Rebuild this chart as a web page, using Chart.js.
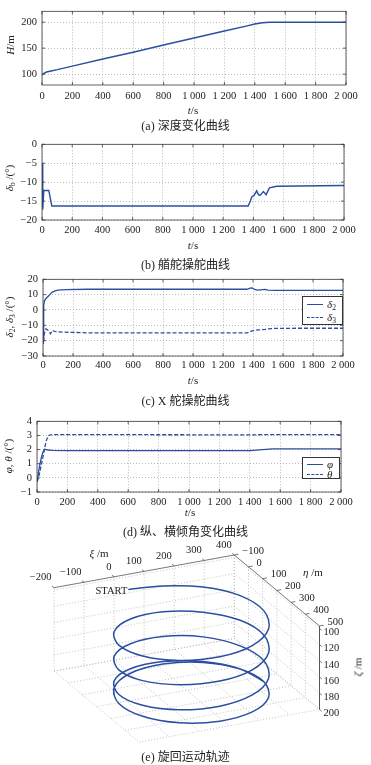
<!DOCTYPE html>
<html><head><meta charset="utf-8"><title>chart</title>
<script src="https://cdn.jsdelivr.net/npm/chart.js@4.4.1/dist/chart.umd.min.js"></script>
<style>
html,body{margin:0;padding:0;background:#fff;}
#wrap{position:relative;width:371px;height:765px;overflow:hidden;background:#fff;color:#222;font-family:"Liberation Serif","Noto Sans CJK SC",serif;}
canvas{position:absolute;left:0;}
.c{position:absolute;white-space:nowrap;line-height:1;transform:translate(-50%,-50%);font-size:11px;z-index:2;}
.r{position:absolute;white-space:nowrap;line-height:1;transform:translate(-50%,-50%) rotate(-90deg);font-size:11px;z-index:2;}
.cap{position:absolute;left:0;width:371px;text-align:center;line-height:1;font-size:12px;transform:translateY(-50%);z-index:2;}
sub{font-size:7.5px;vertical-align:-2px;line-height:0;font-style:normal;}
.leg{position:absolute;background:#fff;border:1px solid #333;box-sizing:border-box;z-index:3;}
.row{position:absolute;left:0;width:100%;height:10px;}
.ln{position:absolute;left:4px;width:16px;top:5px;border-top:1.3px solid #2b4ea2;}
.ln.d{border-top-style:dashed;}
.lb{position:absolute;left:24px;top:-1px;font-size:11px;line-height:12px;font-style:italic;}
</style></head>
<body><div id="wrap">
<canvas id="ca" width="371" height="104" style="top:0px"></canvas>
<canvas id="cb" width="371" height="104" style="top:133px"></canvas>
<canvas id="cc" width="371" height="106" style="top:268px"></canvas>
<canvas id="cd" width="371" height="100" style="top:410px"></canvas>
<canvas id="ce" width="371" height="212" style="top:540px"></canvas>

<div class="c" style="left:193px;top:110px"><i>t</i>/s</div>
<div class="r" style="left:10px;top:45px"><i>H</i>/m</div>
<div class="cap" style="top:126px">(a) 深度变化曲线</div>

<div class="c" style="left:193px;top:245px"><i>t</i>/s</div>
<div class="r" style="left:9px;top:178px"><i>δ</i><sub>b</sub> /(°)</div>
<div class="cap" style="top:265px">(b) 艏舵操舵曲线</div>

<div class="c" style="left:193px;top:380px"><i>t</i>/s</div>
<div class="r" style="left:9px;top:317px"><i>δ</i><sub>2</sub>, <i>δ</i><sub>3</sub> /(°)</div>
<div class="cap" style="top:401px">(c) X 舵操舵曲线</div>
<div class="leg" style="left:302px;top:296px;width:41px;height:29px">
  <div class="row" style="top:2px"><div class="ln"></div><div class="lb"><i>δ</i><sub>2</sub></div></div>
  <div class="row" style="top:15px"><div class="ln d"></div><div class="lb"><i>δ</i><sub>3</sub></div></div>
</div>

<div class="c" style="left:190px;top:512px"><i>t</i>/s</div>
<div class="r" style="left:8px;top:456px"><i>φ</i>, <i>θ</i> /(°)</div>
<div class="cap" style="top:532px">(d) 纵、横倾角变化曲线</div>
<div class="leg" style="left:302px;top:457px;width:38px;height:22px">
  <div class="row" style="top:1px"><div class="ln"></div><div class="lb">φ</div></div>
  <div class="row" style="top:11px"><div class="ln d"></div><div class="lb">θ</div></div>
</div>

<div class="c" style="left:99px;top:553px"><i>ξ</i> /m</div>
<div class="c" style="left:313px;top:572px"><i>η</i> /m</div>
<div class="r" style="left:358px;top:667px"><i>ζ</i> /m</div>
<div class="cap" style="top:757px">(e) 旋回运动轨迹</div>
</div>
<script>
// ---------- data ----------
const xTickValues = [0,200,400,600,800,1000,1200,1400,1600,1800,2000];
const xTickLabels = ['0','200','400','600','800','1 000','1 200','1 400','1 600','1 800','2 000'];

// (a) depth H
const tDepth = [0,10,30,60,100,200,400,600,800,1000,1200,1350,1400,1450,1500,1600,1800,2000];
const depthH = [98,101,104,106,108.5,115.5,129,142,156,169.5,183,193,196.5,199,200,200,200,200];
const yTicksA = [100,150,200];
const yLabelsA = ['100','150','200'];

// (b) bow rudder
const tBow = [0,5,12,45,65,200,600,1000,1365,1378,1389,1404,1422,1433,1444,1466,1484,1506,1555,1700,2000];
const deltaB = [-5,-17.2,-12.2,-12.2,-16.3,-16.3,-16.3,-16.3,-16.3,-15.2,-13.9,-13.5,-12.3,-13.3,-13.5,-12.5,-13.3,-11.5,-11.1,-11.0,-10.9];
const yTicksB = [-20,-15,-10,-5,0];
const yLabelsB = ['−20','−15','−10','−5','0'];

// (c) X rudder
const tX = [0,3,6,10,20,35,50,60,80,100,150,300,800,1360,1380,1395,1410,1430,1450,1480,1500,1550,1700,2000];
const delta2 = [0,-20,3,6,7.5,9,10.5,11.5,12.4,12.9,13.3,13.5,13.5,13.5,14.2,14.4,13.4,12.9,13.1,13.4,12.9,12.8,12.8,12.8];
const delta3 = [0,-22,-17,-15,-12.3,-13.4,-15.5,-13.4,-14.0,-14.3,-14.5,-14.9,-14.9,-14.9,-14.2,-13.6,-13.3,-13.0,-12.9,-12.6,-12.3,-12.0,-11.9,-11.9];
const yTicksC = [-30,-20,-10,0,10,20];
const yLabelsC = ['−30','−20','−10','0','10','20'];

// (d) pitch / roll
const tAng = [0,10,20,30,40,50,60,75,100,200,1400,1550,2000];
const phi = [-0.3,0.4,1.0,1.5,1.85,2.02,2.0,1.97,1.95,1.92,1.92,2.05,2.05];
const theta = [-0.3,0.0,0.5,1.0,1.5,2.1,2.6,3.0,3.06,3.06,3.04,3.06,3.05];
const yTicksD = [-1,0,1,2,3,4];
const yLabelsD = ['−1','0','1','2','3','4'];

// (e) turning trajectory (xi, eta, zeta)
const xiPath = [0,121,236,316,339,300,208,89,-26,-106,-129,-90,
                2,121,236,316,339,300,208,89,-26,-106,-129,-90,
                2,121,236,316,339,300,208,89,-26,-106,-129,-90,
                2,121,236,316,339,300,208,89,-26,-106,-129,-90,
                2,121,236,316,339];
const etaPath = [0,-12,27,119,238,353,433,456,417,325,206,91,
                 11,-12,27,119,238,353,433,456,417,325,206,91,
                 11,-12,27,119,238,353,433,456,417,325,206,91,
                 11,-12,27,119,238,353,433,456,417,325,206,91,
                 11,-12,27,119,238];
const zetaPath = [98,103.5,107,109.5,112.5,115.5,118,120.5,123,125.5,128,130.5,
                  133,135.5,138,140,142.5,145,148,150.5,153,156,158.5,161,
                  163.5,166,168.5,171.5,174,176.5,179,181.5,184,186.5,189,191.5,
                  194.5,197,199,200,200,200,200,200,200,200,200,200,
                  200,200,200,200,200];
const xiTicks = [-200,-100,0,100,200,300,400];
const xiTickLabels = ['−200','−100','0','100','200','300','400'];
const etaTicks = [-100,0,100,200,300,400,500];
const etaTickLabels = ['−100','0','100','200','300','400','500'];
const zetaTicks = [100,120,140,160,180,200];
const zetaTickLabels = ['100','120','140','160','180','200'];
const XI_LIM = [-200,400], ETA_LIM = [-100,500], ZETA_LIM = [97,200];

// ---------- style ----------
const LINE = '#2b4ea2', TXT = '#222', GRID = '#a8a8a8';
const TF = {family:'"Liberation Serif", serif', size:10.5};

const framePlugin = {
  id:'frame',
  afterDraw(chart){
    const {ctx, chartArea:a} = chart;
    const xs = chart.scales.x, ys = chart.scales.y;
    ctx.save();
    ctx.setLineDash([]);
    ctx.strokeStyle = '#3a3a3a'; ctx.lineWidth = 0.8;
    ctx.strokeRect(a.left, a.top, a.right - a.left, a.bottom - a.top);
    ctx.beginPath();
    xs.ticks.forEach(t => {
      const p = xs.getPixelForValue(t.value);
      ctx.moveTo(p, a.bottom); ctx.lineTo(p, a.bottom - 3);
      ctx.moveTo(p, a.top); ctx.lineTo(p, a.top + 3);
    });
    ys.ticks.forEach(t => {
      const p = ys.getPixelForValue(t.value);
      ctx.moveTo(a.left, p); ctx.lineTo(a.left + 3, p);
      ctx.moveTo(a.right, p); ctx.lineTo(a.right - 3, p);
    });
    ctx.stroke();
    ctx.restore();
  }
};

function pts(xs, ys){ return xs.map((x,i) => ({x:x, y:ys[i]})); }

function make2D(id, o){
  return new Chart(document.getElementById(id), {
    type:'line',
    data:{datasets:o.datasets},
    options:{
      responsive:false, animation:false, devicePixelRatio:1,
      layout:{padding:{top:o.top, right:o.right, left:0, bottom:0}},
      plugins:{legend:{display:false}, tooltip:{enabled:false}},
      elements:{point:{radius:0}, line:{tension:0, borderWidth:1.3, borderColor:LINE}},
      scales:{
        x:{type:'linear', min:0, max:2000,
           afterFit:s => { s.height = o.xH; },
           afterBuildTicks:s => { s.ticks = xTickValues.map(v => ({value:v})); },
           ticks:{callback:(v,i) => xTickLabels[i], padding:o.xPad, maxRotation:0, minRotation:0, autoSkip:false, color:TXT, font:TF},
           grid:{color:GRID, lineWidth:0.8, drawTicks:false},
           border:{display:false, dash:[1,2]}},
        y:{type:'linear', min:o.yMin, max:o.yMax,
           afterFit:s => { s.width = o.yW; },
           afterBuildTicks:s => { s.ticks = o.yT.map(v => ({value:v})); },
           ticks:{callback:(v,i) => o.yL[i], padding:5, autoSkip:false, color:TXT, font:TF},
           grid:{color:GRID, lineWidth:0.8, drawTicks:false},
           border:{display:false, dash:[1,2]}}
      }
    },
    plugins:[framePlugin]
  });
}

make2D('ca', {top:6, right:25, xH:19, yW:42, xPad:5, yMin:79, yMax:221, yT:yTicksA, yL:yLabelsA,
  datasets:[{label:'H', data:pts(tDepth, depthH), borderColor:LINE, borderWidth:1.4}]});

make2D('cb', {top:10, right:27, xH:17, yW:42, xPad:4, yMin:-20, yMax:0, yT:yTicksB, yL:yLabelsB,
  datasets:[{label:'δb', data:pts(tBow, deltaB), borderColor:LINE, borderWidth:1.4}]});

make2D('cc', {top:10, right:28, xH:18, yW:43, xPad:3, yMin:-30, yMax:20, yT:yTicksC, yL:yLabelsC,
  datasets:[
    {label:'δ2', data:pts(tX, delta2), borderColor:LINE, borderWidth:1.3},
    {label:'δ3', data:pts(tX, delta3), borderColor:LINE, borderWidth:1.3, borderDash:[4,2]}
  ]});

make2D('cd', {top:10, right:30, xH:18, yW:37, xPad:4, yMin:-1, yMax:4, yT:yTicksD, yL:yLabelsD,
  datasets:[
    {label:'φ', data:pts(tAng, phi), borderColor:LINE, borderWidth:1.3},
    {label:'θ', data:pts(tAng, theta), borderColor:LINE, borderWidth:1.3, borderDash:[4,2]}
  ]});

// ---------- 3-D view projection (view layout only) ----------
function proj(a, b, c){
  return {
    x: 54 + (a - XI_LIM[0]) * 0.3005 + (b - ETA_LIM[0]) * 0.142,
    y: 587.7 - (a - XI_LIM[0]) * 0.0545 + (b - ETA_LIM[0]) * 0.1183 + (c - ZETA_LIM[0]) * 0.81
  };
}
const GAP = {x:NaN, y:NaN};
function addSeg(arr, p, q){ arr.push(proj(p[0],p[1],p[2]), proj(q[0],q[1],q[2]), GAP); }

const gridPts = [];
const [x0,x1] = XI_LIM, [e0,e1] = ETA_LIM, [z0,z1] = ZETA_LIM;
// back wall eta = e0
zetaTicks.forEach(z => addSeg(gridPts, [x0,e0,z], [x1,e0,z]));
xiTicks.forEach(v => addSeg(gridPts, [v,e0,z0], [v,e0,z1]));
// side wall xi = x1
zetaTicks.forEach(z => addSeg(gridPts, [x1,e0,z], [x1,e1,z]));
etaTicks.forEach(v => { if (v !== e1) addSeg(gridPts, [x1,v,z0], [x1,v,z1]); });
// floor zeta = z1
xiTicks.forEach(v => addSeg(gridPts, [v,e0,z1], [v,e1,z1]));
etaTicks.forEach(v => addSeg(gridPts, [x0,v,z1], [x1,v,z1]));

const edgePts = [];
addSeg(edgePts, [x0,e0,z0], [x1,e0,z0]);
addSeg(edgePts, [x1,e0,z0], [x1,e1,z0]);
addSeg(edgePts, [x1,e1,z0], [x1,e1,z1]);
xiTicks.forEach(v => addSeg(edgePts, [v,e0,z0], [v,e0-14,z0]));
etaTicks.forEach(v => addSeg(edgePts, [x1,v,z0], [x1+14,v,z0]));
zetaTicks.forEach(z => addSeg(edgePts, [x1,e1,z], [x1,e1+16,z]));

const helixPts = xiPath.map((v,i) => proj(v, etaPath[i], zetaPath[i]));

const labels3D = {
  id:'labels3D',
  afterDraw(chart){
    const ctx = chart.ctx, X = chart.scales.x, Y = chart.scales.y;
    const P = (a,b,c) => { const p = proj(a,b,c); return {x:X.getPixelForValue(p.x), y:Y.getPixelForValue(p.y)}; };
    ctx.save();
    ctx.fillStyle = TXT;
    ctx.font = '10.5px "Liberation Serif", serif';
    ctx.textBaseline = 'middle';
    ctx.textAlign = 'right';
    xiTicks.forEach((v,i) => { const p = P(v, e0, z0); ctx.fillText(xiTickLabels[i], p.x - 2.5, p.y - 10); });
    ctx.textAlign = 'left';
    etaTicks.forEach((v,i) => { const p = P(x1, v, z0); ctx.fillText(etaTickLabels[i], p.x + 8, p.y - 4); });
    zetaTicks.forEach((v,i) => { const p = P(x1, e1, v); ctx.fillText(zetaTickLabels[i], p.x + 4, p.y + 4); });
    const s = P(xiPath[0], etaPath[0], zetaPath[0]);
    ctx.textAlign = 'right';
    ctx.fillText('START', s.x - 1, s.y + 2);
    ctx.restore();
  }
};

new Chart(document.getElementById('ce'), {
  type:'scatter',
  data:{datasets:[
    {label:'trajectory', data:helixPts, showLine:true, borderColor:LINE, borderWidth:1.5, pointRadius:0, tension:0.35, fill:false},
    {label:'edges', data:edgePts, showLine:true, borderColor:'#555', borderWidth:0.8, pointRadius:0, tension:0},
    {label:'grid', data:gridPts, showLine:true, borderColor:'#b4b4b4', borderWidth:0.8, borderDash:[1,2], pointRadius:0, tension:0}
  ]},
  options:{
    responsive:false, animation:false, devicePixelRatio:1,
    layout:{padding:0},
    plugins:{legend:{display:false}, tooltip:{enabled:false}},
    scales:{
      x:{type:'linear', min:0, max:371, display:false},
      y:{type:'linear', min:540, max:752, reverse:true, display:false}
    }
  },
  plugins:[labels3D]
});
</script>
</body></html>
